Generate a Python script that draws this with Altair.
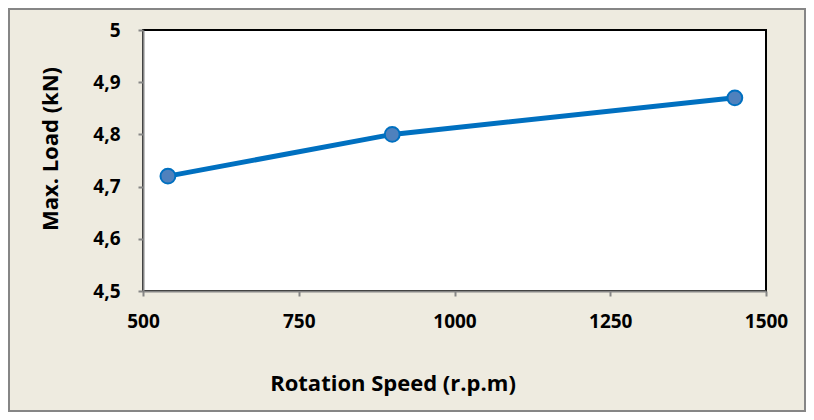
import altair as alt
import pandas as pd

speed = [540, 900, 1450]
load = [4.72, 4.80, 4.87]

df = pd.DataFrame({"speed": speed, "load": load})

W, H = 623, 261
FONT = "Open Sans"

base = alt.Chart(df)

line = base.mark_line(color="#0070C0", strokeWidth=5).encode(
    x=alt.X("speed:Q", scale=alt.Scale(domain=[500, 1500], nice=False),
            axis=alt.Axis(values=[500, 750, 1000, 1250, 1500], title="Rotation Speed (r.p.m)",
                          format="d", labelFlush=False, labelPadding=16,
                          titleX=W / 2 - 62, titleY=92, titleBaseline="middle")),
    y=alt.Y("load:Q", scale=alt.Scale(domain=[4.5, 5.0], nice=False, zero=False),
            axis=alt.Axis(values=[4.5, 4.6, 4.7, 4.8, 4.9, 5.0], title="Max. Load (kN)",
                          labelExpr="datum.value == 5 ? '5' : replace(format(datum.value, '.1f'), '.', ',')",
                          labelPadding=18, labelFlush=False,
                          titleX=-93, titleY=H / 2 - 12, titleBaseline="middle")),
)

points = base.mark_point(filled=True, fill="#4F81BD", stroke="#0070C0", strokeWidth=2,
                         size=220, opacity=1).encode(x="speed:Q", y="load:Q")

frame = alt.Chart(pd.DataFrame({"a": [0]})).mark_rect(
    fill=None, stroke="#868686", strokeWidth=2, clip=False
).encode(x=alt.value(-134), x2=alt.value(W + 39), y=alt.value(-21), y2=alt.value(H + 120))

chart = alt.layer(frame, line, points).properties(
    width=W, height=H,
    autosize=alt.AutoSizeParams(type="none"),
    padding={"left": 135, "top": 22, "right": 40, "bottom": 121},
    background="#EEEBE0",
).configure_view(
    stroke="black", strokeWidth=2, fill="white"
).configure_axis(
    grid=False, domainColor="#868686", domainWidth=2, tickColor="#868686", tickWidth=2, tickSize=5,
    labelFont=FONT, labelFontSize=19, labelFontWeight="bold", labelColor="black",
    titleFont=FONT, titleFontSize=22, titleFontWeight="bold", titleColor="black",
)

chart.save("out.html", embed_options={"renderer": "svg", "actions": False})
